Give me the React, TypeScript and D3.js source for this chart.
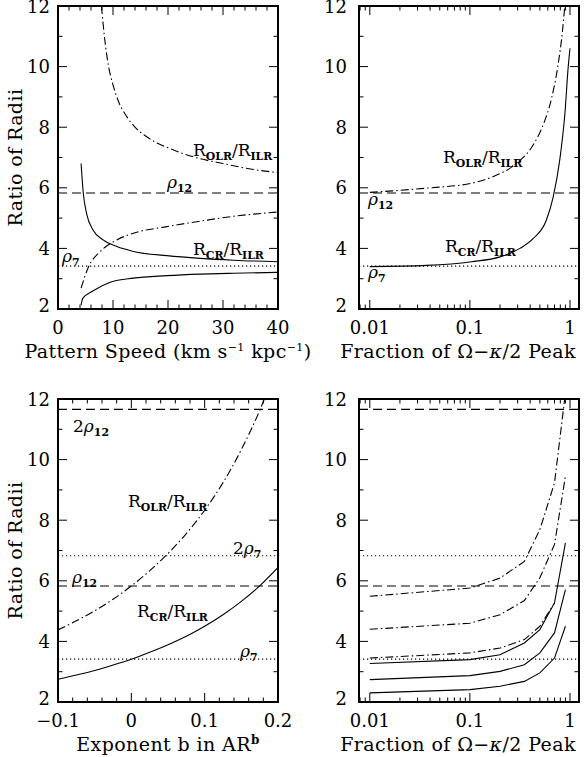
import React, { useEffect, useRef } from 'react';
import * as d3 from 'd3';

// reference levels
const RHO7 = 3.414;
const RHO12 = 5.828;

// tick values
const ratioMajor = [2, 4, 6, 8, 10, 12];
const speedMajor = [0, 10, 20, 30, 40];
const expMajor = [-0.1, 0, 0.1, 0.2];
const fracMajor = [0.01, 0.1, 1];

// top left: ratio vs pattern speed
const speedOlrX = [7.9, 8.5, 9.2, 10, 11, 12.5, 14, 16, 18, 20, 25, 30, 35, 40];
const speedOlrY = [12, 10.9, 10, 9.4, 8.85, 8.35, 8.0, 7.7, 7.48, 7.32, 7.0, 6.8, 6.62, 6.5];
const speedOlr2X = [4.2, 5.5, 7.7, 10.7, 13.7, 19.8, 25.9, 31.9, 40];
const speedOlr2Y = [2.69, 3.37, 3.9, 4.28, 4.5, 4.72, 4.9, 5.06, 5.2];
const speedCrX = [4.2, 4.6, 5.2, 6.4, 8.2, 10.7, 13.7, 19.8, 25.9, 31.9, 40];
const speedCrY = [6.8, 5.82, 5.15, 4.6, 4.28, 4.06, 3.9, 3.76, 3.67, 3.61, 3.56];
const speedCr2X = [4.2, 4.5, 6.4, 9.5, 13.7, 19.8, 25.9, 31.9, 40];
const speedCr2Y = [2.13, 2.35, 2.6, 2.88, 3.02, 3.1, 3.15, 3.18, 3.21];

// top right: ratio vs fraction of peak
const fracOlrX = [0.01, 0.017, 0.037, 0.104, 0.171, 0.293, 0.43, 0.54, 0.655, 0.76, 0.84, 0.89];
const fracOlrY = [5.85, 5.9, 5.99, 6.15, 6.37, 6.81, 7.42, 8.08, 8.96, 10.06, 11.16, 12.06];
const fracCrX = [0.01, 0.037, 0.104, 0.2, 0.316, 0.43, 0.58, 0.68, 0.79, 0.89, 0.96, 1.0];
const fracCrY = [3.4, 3.44, 3.56, 3.72, 4.0, 4.33, 4.93, 5.7, 6.92, 8.46, 10.0, 10.6];

// bottom left: ratio vs exponent b
const expB = [-0.1, -0.075, -0.05, -0.025, 0, 0.025, 0.05, 0.075, 0.1, 0.125, 0.15, 0.175, 0.2];
const expOlr = [4.38, 4.68, 5.01, 5.39, 5.83, 6.33, 6.9, 7.56, 8.33, 9.24, 10.33, 11.62, 13.19];
const expCr = [2.75, 2.89, 3.04, 3.22, 3.41, 3.64, 3.89, 4.17, 4.5, 4.88, 5.32, 5.83, 6.44];

// bottom right: several models vs fraction of peak
const modelFrac = [0.01, 0.1, 0.2, 0.35, 0.5, 0.7, 0.9];
const modelOlrA = [5.49, 5.76, 6.09, 6.64, 7.69, 9.23, 12.2];
const modelOlrB = [4.4, 4.6, 4.88, 5.35, 6.1, 7.2, 9.45];
const modelOlrC = [3.45, 3.62, 3.78, 4.06, 4.5, 5.27];
const modelCrA = [3.27, 3.4, 3.56, 3.95, 4.39, 5.27, 7.25];
const modelCrB = [2.74, 2.87, 3.01, 3.23, 3.62, 4.28, 5.71];
const modelCrC = [2.3, 2.41, 2.52, 2.68, 2.96, 3.45, 4.5];

const SERIF = '"DejaVu Serif", serif';
const DASHDOT = '8,3,1.5,3';
const DASHED = '9,5';
const DOTTED = '1.2,2.8';

const zip = (xs, ys) => ys.map((v, i) => [xs[i], v]);

const olrLabel = [{ t: 'R' }, { t: 'OLR', sub: true }, { t: '/R' }, { t: 'ILR', sub: true }];
const crLabel = [{ t: 'R' }, { t: 'CR', sub: true }, { t: '/R' }, { t: 'ILR', sub: true }];
const rho = (n, pre = '') => [{ t: pre }, { t: 'ρ', it: true }, { t: String(n), sub: true }];

const panels = [
  {
    left: 58, right: 278, top: 6, bottom: 309, log: false,
    domain: [0, 40], major: speedMajor, minorStep: 2, fmt: d => String(d),
    title: 'speed', yTitle: true, gap: 8,
    series: [
      { d: zip(speedOlrX, speedOlrY), dash: DASHDOT },
      { d: zip(speedOlr2X, speedOlr2Y), dash: DASHDOT },
      { d: zip(speedCrX, speedCrY), dash: null },
      { d: zip(speedCr2X, speedCr2Y), dash: null },
    ],
    hlines: [{ v: RHO12, dash: DASHED }, { v: RHO7, dash: DOTTED }],
    labels: [
      { x: 135, y: 150, parts: olrLabel },
      { x: 109, y: 182, parts: rho(12) },
      { x: 135, y: 249, parts: crLabel },
      { x: 4, y: 256, parts: rho(7) },
    ],
  },
  {
    left: 359, right: 579, top: 6, bottom: 309, log: true,
    domain: [0.0078, 1.23], major: fracMajor, fmt: d => String(d),
    title: 'frac', yTitle: false, gap: 12,
    series: [
      { d: zip(fracOlrX, fracOlrY), dash: DASHDOT },
      { d: zip(fracCrX, fracCrY), dash: null },
    ],
    hlines: [{ v: RHO12, dash: DASHED }, { v: RHO7, dash: DOTTED }],
    labels: [
      { x: 84, y: 157, parts: olrLabel },
      { x: 9, y: 199, parts: rho(12) },
      { x: 86, y: 246, parts: crLabel },
      { x: 9, y: 272, parts: rho(7) },
    ],
  },
  {
    left: 58, right: 278, top: 399, bottom: 702, log: false,
    domain: [-0.1, 0.2], major: expMajor, minorStep: 0.02,
    fmt: d => (d < 0 ? '−' + String(-d) : String(d)),
    title: 'exp', yTitle: true, gap: 8,
    series: [
      { d: zip(expB, expOlr), dash: DASHDOT },
      { d: zip(expB, expCr), dash: null },
    ],
    hlines: [
      { v: 2 * RHO12, dash: DASHED }, { v: RHO12, dash: DASHED },
      { v: 2 * RHO7, dash: DOTTED }, { v: RHO7, dash: DOTTED },
    ],
    labels: [
      { x: 15, y: 33, parts: rho(12, '2') },
      { x: 70, y: 108, parts: olrLabel },
      { x: 175, y: 155, parts: rho(7, '2') },
      { x: 14, y: 184, parts: rho(12) },
      { x: 79, y: 218, parts: crLabel },
      { x: 182, y: 258, parts: rho(7) },
    ],
  },
  {
    left: 359, right: 579, top: 399, bottom: 702, log: true,
    domain: [0.0078, 1.23], major: fracMajor, fmt: d => String(d),
    title: 'frac', yTitle: false, gap: 12, linear: true,
    series: [
      { d: zip(modelFrac, modelOlrA), dash: DASHDOT },
      { d: zip(modelFrac, modelOlrB), dash: DASHDOT },
      { d: zip(modelFrac, modelOlrC), dash: DASHDOT },
      { d: zip(modelFrac, modelCrA), dash: null },
      { d: zip(modelFrac, modelCrB), dash: null },
      { d: zip(modelFrac, modelCrC), dash: null },
    ],
    hlines: [
      { v: 2 * RHO12, dash: DASHED }, { v: RHO12, dash: DASHED },
      { v: 2 * RHO7, dash: DOTTED }, { v: RHO7, dash: DOTTED },
    ],
    labels: [],
  },
];

function rich(g, x, y, parts, size) {
  const t = g.append('text').attr('x', x).attr('y', y)
    .style('font-family', SERIF).style('font-size', size + 'px').attr('fill', '#000');
  let down = false;
  parts.forEach(p => {
    if (!p.t) return;
    const s = t.append('tspan').text(p.t);
    if (p.sub && !down) { s.attr('dy', 4); down = true; }
    else if (!p.sub && down) { s.attr('dy', -4); down = false; }
    if (p.sub) s.style('font-size', size * 0.64 + 'px').style('font-weight', 'bold');
    if (p.it) s.style('font-style', 'italic');
  });
  return t;
}

function xTitle(g, kind, cx, y) {
  const t = g.append('text').attr('x', cx).attr('y', y).attr('text-anchor', 'middle')
    .style('font-family', SERIF).style('font-size', '19px').style('letter-spacing', '0.4px');
  if (kind === 'speed') {
    t.append('tspan').text('Pattern Speed (km s');
    t.append('tspan').text('−1').attr('dy', -7).style('font-size', '11px');
    t.append('tspan').text(' kpc').attr('dy', 7);
    t.append('tspan').text('−1').attr('dy', -7).style('font-size', '11px');
    t.append('tspan').text(')').attr('dy', 7);
  } else if (kind === 'exp') {
    t.append('tspan').text('Exponent b in AR');
    t.append('tspan').text('b').attr('dy', -7).style('font-size', '12px').style('font-weight', 'bold');
  } else {
    t.append('tspan').text('Fraction of Ω−');
    t.append('tspan').text('κ').style('font-style', 'italic');
    t.append('tspan').text('/2 Peak');
  }
}

function drawPanel(svg, p, idx) {
  const g = svg.append('g');
  const x = (p.log ? d3.scaleLog() : d3.scaleLinear()).domain(p.domain).range([p.left, p.right]);
  const y = d3.scaleLinear().domain([2, 12]).range([p.bottom, p.top]);

  const clipId = 'clip' + idx;
  svg.append('clipPath').attr('id', clipId).append('rect')
    .attr('x', p.left).attr('y', p.top).attr('width', p.right - p.left).attr('height', p.bottom - p.top);
  const plot = g.append('g').attr('clip-path', `url(#${clipId})`);

  p.hlines.forEach(h => {
    plot.append('line').attr('x1', p.left).attr('x2', p.right)
      .attr('y1', y(h.v)).attr('y2', y(h.v))
      .attr('stroke', '#000').attr('stroke-width', 1.1).attr('stroke-dasharray', h.dash);
  });

  const line = d3.line().x(d => x(d[0])).y(d => y(d[1]))
    .curve(p.linear ? d3.curveLinear : d3.curveMonotoneX);
  p.series.forEach(s => {
    plot.append('path').attr('d', line(s.d)).attr('fill', 'none')
      .attr('stroke', '#000').attr('stroke-width', 1.1)
      .attr('stroke-dasharray', s.dash);
  });

  // ticks on all four sides
  const xMinor = p.log ? x.ticks() : d3.range(p.domain[0], p.domain[1] + 1e-9, p.minorStep);
  const isMajorX = v => p.major.some(m => Math.abs(m - v) < 1e-6 * Math.max(1, Math.abs(m)));
  xMinor.forEach(v => {
    const len = isMajorX(v) ? 9 : 4.5;
    const px = x(v);
    g.append('line').attr('x1', px).attr('x2', px).attr('y1', p.bottom).attr('y2', p.bottom - len)
      .attr('stroke', '#000').attr('stroke-width', 1);
    g.append('line').attr('x1', px).attr('x2', px).attr('y1', p.top).attr('y2', p.top + len)
      .attr('stroke', '#000').attr('stroke-width', 1);
  });
  d3.range(2, 12.01, 1).forEach(v => {
    const len = v % 2 === 0 ? 9 : 4.5;
    const py = y(v);
    g.append('line').attr('x1', p.left).attr('x2', p.left + len).attr('y1', py).attr('y2', py)
      .attr('stroke', '#000').attr('stroke-width', 1);
    g.append('line').attr('x1', p.right).attr('x2', p.right - len).attr('y1', py).attr('y2', py)
      .attr('stroke', '#000').attr('stroke-width', 1);
  });

  g.append('rect').attr('x', p.left).attr('y', p.top)
    .attr('width', p.right - p.left).attr('height', p.bottom - p.top)
    .attr('fill', 'none').attr('stroke', '#000').attr('stroke-width', 2);

  // tick labels
  p.major.forEach(v => {
    g.append('text').attr('x', x(v)).attr('y', p.bottom + 25).attr('text-anchor', 'middle')
      .style('font-family', SERIF).style('font-size', '18px').text(p.fmt(v));
  });
  ratioMajor.forEach(v => {
    const lift = v === 2 ? 4 : 0;
    g.append('text').attr('x', p.left - p.gap).attr('y', y(v) + 6.5 - lift).attr('text-anchor', 'end')
      .style('font-family', SERIF).style('font-size', '18px').text(String(v));
  });

  xTitle(g, p.title, p.title === 'frac' ? 458 : (p.left + p.right) / 2, p.bottom + 49);
  if (p.yTitle) {
    g.append('text')
      .attr('transform', `translate(22,${(p.top + p.bottom) / 2}) rotate(-90)`)
      .attr('text-anchor', 'middle')
      .style('font-family', SERIF).style('font-size', '19px').style('letter-spacing', '0.4px')
      .text('Ratio of Radii');
  }

  p.labels.forEach(l => rich(g, p.left + l.x, p.top + l.y, l.parts, 17));
}

const App = () => {
  const svgRef = useRef(null);

  useEffect(() => {
    const svg = d3.select(svgRef.current);
    svg.selectAll('*').remove();
    svg.append('rect').attr('width', 586).attr('height', 757).attr('fill', '#fff');
    panels.forEach((p, i) => drawPanel(svg, p, i));
  }, []);

  return (
    <svg ref={svgRef} width={586} height={757}
      style={{ position: 'absolute', left: 0, top: 0, display: 'block' }} />
  );
};

export default App;
